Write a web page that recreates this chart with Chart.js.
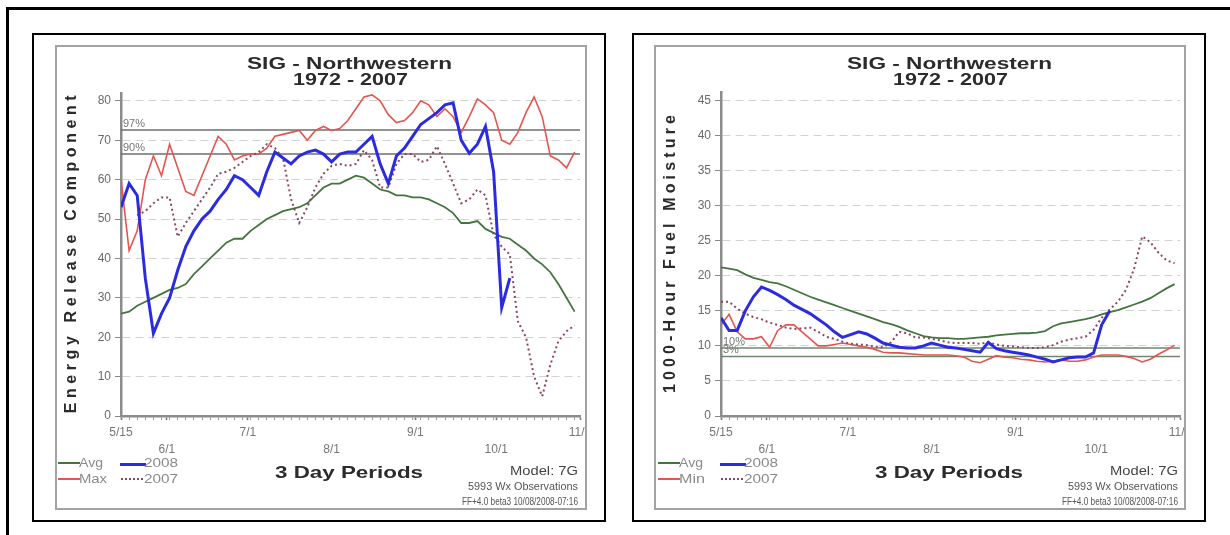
<!DOCTYPE html>
<html><head><meta charset="utf-8">
<script src="https://cdn.jsdelivr.net/npm/chart.js@4.4.1/dist/chart.umd.min.js"></script>
<style>
html,body{margin:0;padding:0;background:#fff;}
body{width:1230px;height:535px;position:relative;overflow:hidden;font-family:"Liberation Sans",Arial,sans-serif;}
.outer{position:absolute;left:6px;top:7px;width:1400px;height:700px;border-left:3px solid #000;border-top:3px solid #000;}
.panel{position:absolute;top:33px;width:574px;height:489px;border:2px solid #000;box-sizing:border-box;}
.frame{position:absolute;top:45px;width:532px;height:465px;border:2px solid #a3a3a3;box-sizing:border-box;overflow:hidden;background:#fff;}
.frame canvas{position:absolute;left:-2px;top:-2px;}
.txt{position:absolute;white-space:nowrap;transform-origin:0 50%;}
.lg{position:absolute;height:0;}
</style></head><body>
<div class="outer"></div>
<div class="panel" style="left:32px"></div>
<div class="panel" style="left:632px"></div>
<div class="frame" style="left:55px"><canvas id="erc" width="560" height="465" style="width:560px;height:465px"></canvas></div>
<div class="frame" style="left:654px"><canvas id="fm" width="560" height="465" style="width:560px;height:465px"></canvas></div>
<script>
// ---------- data ----------
const periodDays = [0,3,6,9,12,15,18,21,24,27,30,33,36,39,42,45,48,51,54,57,60,63,66,69,72,75,78,81,84,87,90,93,96,99,102,105,108,111,114,117,120,123,126,129,132,135,138,141,144,147,150,153,156,159,162,165,168];
const monthTickDays = [0,17,47,78,109,139,170];
const monthTickLabels = ['5/15','6/1','7/1','8/1','9/1','10/1','11/1'];

// Energy Release Component
const ercAvg = [26,26.5,28,29,30,31,32,32.5,33.5,36,38,40,42,44,45,45,47,48.5,50,51,52,52.5,53,54,56,58,59,59,60,61,60.5,59,57.5,57,56,56,55.5,55.5,55,54,53,51.5,49,49,49.5,47.5,46.5,45.5,45,43.5,42,40,38.5,36.5,33.5,30,26.5];
const ercMax = [60,42,47,60,66,61,69,63,57,56,61,66,71,69,65,66,66.5,66.5,68,71,71.5,72,72.5,70,72.5,73.5,72.5,73,75,78,81,81.5,80,76.5,74.5,75,77,80,79,76,78,76,72,76,80.5,79,77,70,69,72,77,81,76,66,65,63,67];
const erc2008 = [53,59,56,35,21,26,30,37,43,47,50,52,55,57.5,61,60,58,56,62,67,65.5,64,66,67,67.5,66.5,64.5,66.5,67,67,69,71,64,59,66,68,71,74,75.5,77,79,79.5,70,66.7,69,73.5,62,27.5,35];
const erc2007 = [null,null,51,52,54,55.5,55.5,45.5,49,52,55,58,61.5,62,63,64.5,66,67,69,68,65.5,55,49,53,58,61.5,63.5,64,63.5,64,67.5,65,58,58,64,66.5,66.5,64.5,65,68.5,64,59,54,55,57.5,56,46,43,41,24,20,10,5,13,19,21.5,23];
const ercPctValues = [72.6,66.5];
const ercPctLabels = ['97%','90%'];
const ercTicks = {min:0,max:82,step:10};

// 1000-Hour Fuel Moisture
const fmAvg = [21.2,21,20.8,20.2,19.7,19.4,19.1,18.9,18.5,18,17.5,17,16.6,16.2,15.8,15.4,15,14.6,14.2,13.8,13.4,13.1,12.7,12.2,11.8,11.4,11.2,11.1,11.1,11,11,11.1,11.2,11.3,11.5,11.6,11.7,11.8,11.8,11.9,12.1,12.8,13.2,13.4,13.6,13.8,14.1,14.5,14.8,15.1,15.5,15.9,16.3,16.8,17.5,18.2,18.8];
const fmMin = [13,14.5,12,11,11,11.3,9.8,12.2,13,13,12,11,10,10,10.2,10.4,10.2,10,9.8,9.5,9.1,9,9,8.9,8.8,8.7,8.7,8.7,8.7,8.6,8.4,7.8,7.6,8.1,8.6,8.4,8.3,8.1,8,7.8,7.7,7.8,8,7.8,7.8,8,8.4,8.7,8.7,8.7,8.5,8.2,7.7,8.1,8.8,9.4,10.1];
const fm2008 = [14,12.2,12.2,15,17,18.4,17.9,17.3,16.6,15.8,15.2,14.6,13.8,13,12,11.2,11.6,12,11.7,11.1,10.4,10.1,9.8,9.7,9.7,10,10.4,10.1,9.8,9.7,9.5,9.3,9.1,10.5,9.6,9.3,9.1,8.9,8.7,8.4,8.1,7.7,8,8.3,8.4,8.4,9,13,15];
const fm2007 = [16.3,16.3,15.3,14.6,14.1,13.8,13.3,13,12.6,12.4,12.5,12.6,12,11.3,11,10.6,10.3,10.2,10.1,9.9,9.8,10.5,12,11.8,11.2,11.2,11,10.8,10.5,10.4,10.4,10.4,10.3,10.5,10.2,10,9.9,9.8,9.7,9.7,9.8,10.1,10.6,10.9,11.1,11.3,12.3,14,15.2,16.3,18,21,25.6,24.8,23.3,22.2,21.8];
const fmPctValues = [9.7,8.5];
const fmPctLabels = ['10%','3%'];
const fmTicks = {min:0,max:46.2,step:5};

// ---------- styling ----------
const FONT = '"Liberation Sans", Arial, Helvetica, sans-serif';
const C_AVG = '#44753f', C_MAX = '#e5554f', C_08 = '#2b2bdf', C_07 = '#8b4566';

const pctLabelPlugin = {
  id: 'pctLabels',
  beforeDatasetsDraw(chart, args, opts) {
    const {ctx, chartArea} = chart; const y = chart.scales.y;
    ctx.save();
    ctx.font = '11px ' + FONT; ctx.fillStyle = opts.color; ctx.textBaseline = 'bottom'; ctx.textAlign = 'left';
    opts.values.forEach((v, i) => ctx.fillText(opts.labels[i], chartArea.left + 2, y.getPixelForValue(v) - 0.5));
    ctx.restore();
  }
};

function makeChart(id, s) {
  const flat = v => [{x: 0, y: v}, {x: 170, y: v}];
  return new Chart(document.getElementById(id), {
    type: 'line',
    data: {
      labels: periodDays,
      datasets: [
        {label: '2008', data: s.y08, borderColor: C_08, borderWidth: 3, order: 0},
        {label: '2007', data: s.y07, borderColor: C_07, borderWidth: 2, borderDash: [2, 3], order: 1},
        {label: s.extName, data: s.ext, borderColor: C_MAX, borderWidth: 1.6, order: 2},
        {label: 'Avg', data: s.avg, borderColor: C_AVG, borderWidth: 1.8, order: 3},
        {label: s.pctLabels[0], data: flat(s.pctValues[0]), borderColor: s.pctColor, borderWidth: 1.5, order: 4},
        {label: s.pctLabels[1], data: flat(s.pctValues[1]), borderColor: s.pctColor, borderWidth: 1.5, order: 4}
      ]
    },
    options: {
      responsive: false, animation: false, devicePixelRatio: 1,
      layout: {padding: {left: 0, right: s.padRight, top: s.padTop, bottom: 0}},
      elements: {point: {radius: 0}, line: {tension: 0, fill: false}},
      plugins: {legend: {display: false}, tooltip: {enabled: false},
        pctLabels: {values: s.pctValues, labels: s.pctLabels, color: '#777'}},
      scales: {
        x: {
          type: 'linear', min: 0, max: 170,
          afterBuildTicks(scale) {
            const set = Array.from(new Set(periodDays.concat(monthTickDays))).sort((a, b) => a - b);
            scale.ticks = set.map(v => ({value: v}));
          },
          afterFit(scale) { scale.height = 94; },
          ticks: {
            autoSkip: false, maxRotation: 0, minRotation: 0, padding: 4, color: '#777',
            font: {size: 12, family: FONT, lineHeight: '17px'},
            callback(v) {
              const k = monthTickDays.indexOf(v);
              if (k < 0) return '';
              return k % 2 === 0 ? monthTickLabels[k] : ['', monthTickLabels[k]];
            }
          },
          grid: {drawOnChartArea: false, drawTicks: true, tickLength: 4, tickBorderDash: [],
            tickColor: c => (c.tick && monthTickDays.includes(c.tick.value)) ? '#777' : '#9a9a9a',
            tickWidth: c => (c.tick && monthTickDays.includes(c.tick.value)) ? 1.6 : 1},
          border: {display: true, color: '#8c8c8c', width: 2.5}
        },
        y: {
          min: s.ticks.min, max: s.ticks.max,
          afterFit(scale) { scale.width = s.axisW; },
          ticks: {stepSize: s.ticks.step, includeBounds: false, color: '#6a6a6a', padding: 4, font: {size: 12, family: FONT}},
          grid: {color: '#d2d2d2', lineWidth: 1, drawTicks: true, tickLength: 6, tickColor: '#888', tickBorderDash: []},
          border: {display: true, color: '#8c8c8c', width: 2.5, dash: [8, 5]}
        }
      }
    },
    plugins: [pctLabelPlugin]
  });
}

makeChart('erc', {avg: ercAvg, ext: ercMax, extName: 'Max', y08: erc2008, y07: erc2007,
  pctValues: ercPctValues, pctLabels: ercPctLabels, pctColor: '#6e6e6e', ticks: ercTicks,
  axisW: 66, padRight: 35, padTop: 48});
makeChart('fm', {avg: fmAvg, ext: fmMin, extName: 'Min', y08: fm2008, y07: fm2007,
  pctValues: fmPctValues, pctLabels: fmPctLabels, pctColor: '#6f866f', ticks: fmTicks,
  axisW: 67, padRight: 34, padTop: 47});

// ---------- text ----------
function addText(str, x0, x1, cy, size, weight, color) {
  const s = document.createElement('span');
  s.className = 'txt'; s.textContent = str;
  s.style.font = weight + ' ' + size + 'px ' + FONT;
  s.style.lineHeight = '1'; s.style.color = color;
  document.body.appendChild(s);
  const w = s.getBoundingClientRect().width;
  s.style.left = x0 + 'px'; s.style.top = (cy - size / 2) + 'px';
  s.style.transform = 'scaleX(' + ((x1 - x0) / w) + ')';
}
function addVText(str, cx, cy, L, size, color) {
  const s = document.createElement('span');
  s.className = 'txt'; s.textContent = str;
  s.style.font = 'bold ' + size + 'px ' + FONT;
  s.style.lineHeight = '1'; s.style.color = color;
  document.body.appendChild(s);
  const w0 = s.getBoundingClientRect().width, n = str.length;
  const ls = (L - w0) / (n - 1);
  s.style.letterSpacing = ls + 'px';
  const W = w0 + n * ls;
  s.style.left = (cx - W / 2) + 'px';
  s.style.top = (cy - ls / 2 - size / 2) + 'px';
  s.style.transformOrigin = '50% 50%';
  s.style.transform = 'rotate(-90deg)';
}
function addLine(x0, x1, y, w, color, style) {
  const d = document.createElement('div');
  d.className = 'lg';
  d.style.left = x0 + 'px'; d.style.width = (x1 - x0) + 'px';
  d.style.top = (y - w / 2) + 'px';
  d.style.borderTop = w + 'px ' + style + ' ' + color;
  document.body.appendChild(d);
}

const panels = [
  {dx: 0, yTitle: 'Energy Release Component', yL: 318, yCx: 71, yCy: 254, ext: 'Max', extW: 28},
  {dx: 600, yTitle: '1000-Hour Fuel Moisture', yL: 278, yCx: 670, yCy: 254, ext: 'Min', extW: 26}
];
panels.forEach(p => {
  const d = p.dx;
  addText('SIG - Northwestern', 247 + d, 452 + d, 63, 17, 'bold', '#2b2b2b');
  addText('1972 - 2007', 293 + d, 408 + d, 79, 17, 'bold', '#2b2b2b');
  addVText(p.yTitle, p.yCx, p.yCy, p.yL, 16, '#2b2b2b');
  addText('3 Day Periods', 275 + d, 423 + d, 472, 16.5, 'bold', '#2b2b2b');
  addText('Model: 7G', 510 + d, 578 + d, 471, 12, 'normal', '#444');
  addText('5993 Wx Observations', 468 + d, 578 + d, 486, 11, 'normal', '#555');
  addText('FF+4.0 beta3 10/08/2008-07:16', 462 + d, 578 + d, 501, 11, 'normal', '#555');
  addLine(58 + d, 80 + d, 463, 2, C_AVG, 'solid');
  addLine(120 + d, 146 + d, 464, 3, C_08, 'solid');
  addLine(58 + d, 80 + d, 479, 2, C_MAX, 'solid');
  addLine(121 + d, 143 + d, 479, 2, C_07, 'dotted');
  addText('Avg', 79 + d, 103 + d, 463, 12, 'normal', '#8a8a8a');
  addText('2008', 144 + d, 178 + d, 463, 12, 'normal', '#8a8a8a');
  addText(p.ext, 79 + d, 79 + p.extW + d, 479, 12, 'normal', '#8a8a8a');
  addText('2007', 144 + d, 178 + d, 479, 12, 'normal', '#8a8a8a');
});
</script>
</body></html>
